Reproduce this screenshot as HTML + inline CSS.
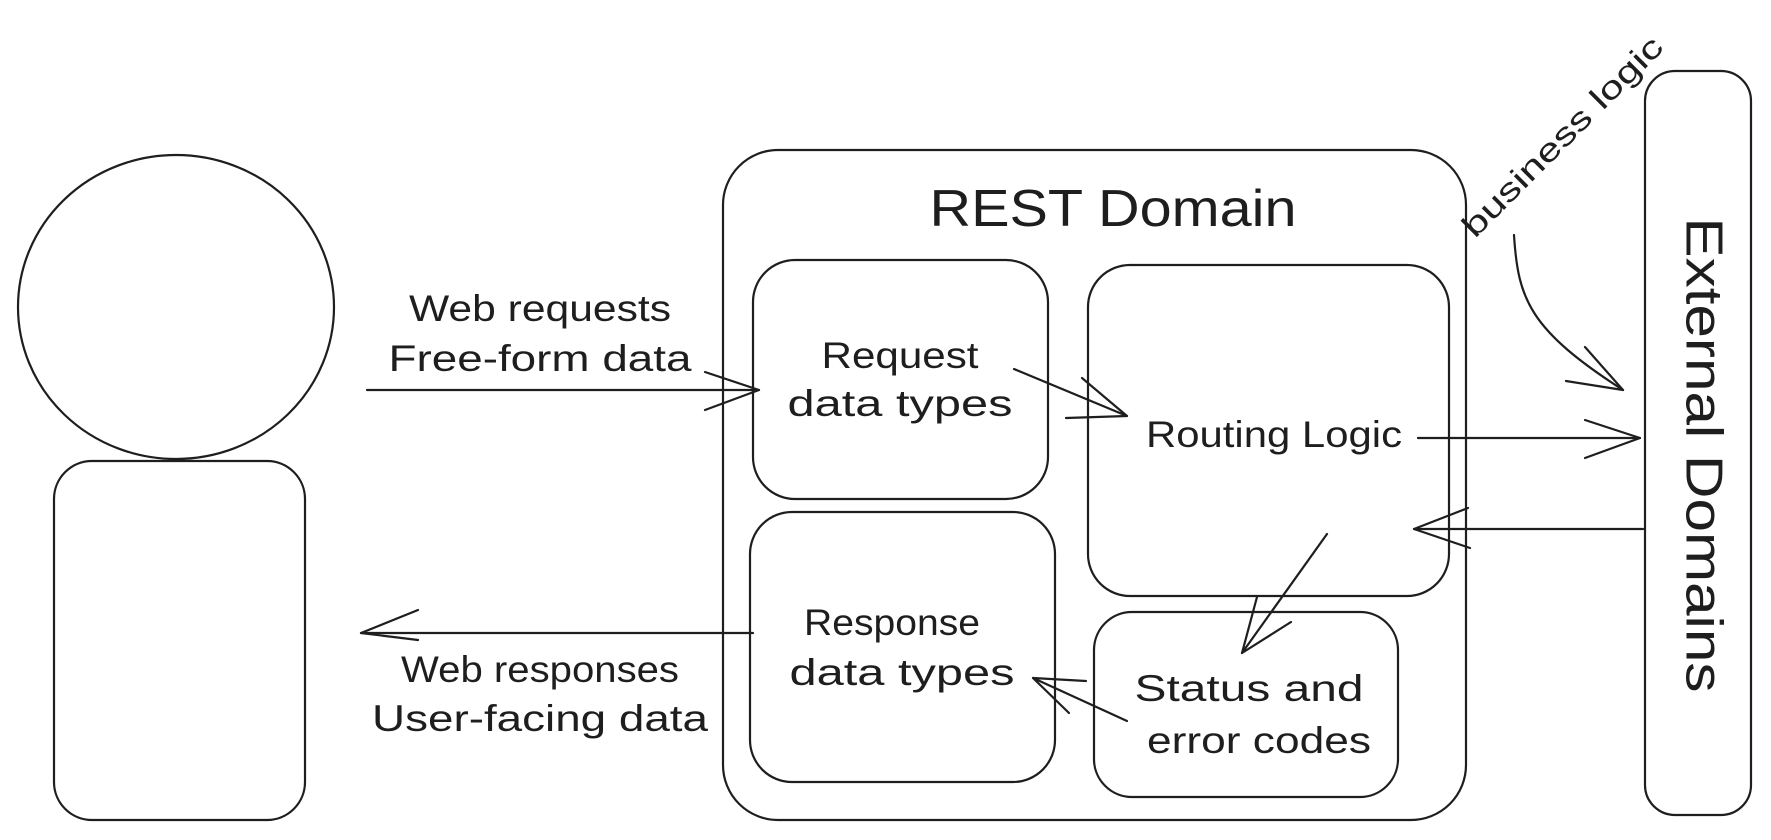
<!DOCTYPE html>
<html><head><meta charset="utf-8"><style>
html,body{margin:0;padding:0;background:#fff;width:1771px;height:840px;overflow:hidden}
svg text{font-family:"Liberation Sans",sans-serif;fill:#1e1e1e}
</style></head><body>
<svg width="1771" height="840" viewBox="0 0 1771 840" xmlns="http://www.w3.org/2000/svg">
<g fill="none" stroke="#1e1e1e" stroke-width="2.2" stroke-linecap="round" stroke-linejoin="round">
<ellipse cx="176" cy="307" rx="158" ry="152"/>
<rect x="54" y="461" width="251" height="359" rx="38"/>
<rect x="723" y="150" width="743" height="670" rx="55"/>
<rect x="753" y="260" width="295" height="239" rx="42"/>
<rect x="1088" y="265" width="361" height="331" rx="42"/>
<rect x="750" y="512" width="305" height="270" rx="42"/>
<rect x="1094" y="612" width="304" height="185" rx="38"/>
<rect x="1645" y="71" width="106" height="744" rx="30"/>
<path d="M367 390 L759 390"/><path d="M705 372 L759 390 L705 410"/>
<path d="M753 633 L361 633"/><path d="M418 610 L361 633 L418 640"/>
<path d="M1418 438 L1640 438"/><path d="M1585 420 L1640 438 L1585 458"/>
<path d="M1643 529 L1414 529"/><path d="M1468 508 L1414 529 L1470 548"/>
<path d="M1014 369 L1127 416"/><path d="M1066 418 L1127 416 L1082 378"/>
<path d="M1327 534 L1242 653"/><path d="M1257 597 L1242 653 L1291 622"/>
<path d="M1127 721 L1033 678"/><path d="M1086 681 L1033 678 L1069 713"/>
<path d="M1514 235 C1518 300 1530 330 1623 390"/><path d="M1585 347 L1623 390 L1566 381"/>
</g>
<text x="1113" y="226" font-size="52" text-anchor="middle" textLength="367" lengthAdjust="spacingAndGlyphs">REST Domain</text>
<g font-size="37" text-anchor="middle">
<text x="540" y="321" textLength="262" lengthAdjust="spacingAndGlyphs">Web requests</text>
<text x="540" y="371" textLength="303" lengthAdjust="spacingAndGlyphs">Free-form data</text>
<text x="540" y="682" textLength="278" lengthAdjust="spacingAndGlyphs">Web responses</text>
<text x="540" y="731" textLength="336" lengthAdjust="spacingAndGlyphs">User-facing data</text>
<text x="900" y="368" textLength="157" lengthAdjust="spacingAndGlyphs">Request</text>
<text x="900" y="416" textLength="225" lengthAdjust="spacingAndGlyphs">data types</text>
<text x="1274" y="447" textLength="256" lengthAdjust="spacingAndGlyphs">Routing Logic</text>
<text x="892" y="635" textLength="176" lengthAdjust="spacingAndGlyphs">Response</text>
<text x="902" y="685" textLength="225" lengthAdjust="spacingAndGlyphs">data types</text>
<text x="1249" y="701" textLength="229" lengthAdjust="spacingAndGlyphs">Status and</text>
<text x="1259" y="753" textLength="224" lengthAdjust="spacingAndGlyphs">error codes</text>
</g>
<text x="1700" y="455" font-size="52" text-anchor="middle" transform="rotate(90 1700 455)" dominant-baseline="middle" textLength="475" lengthAdjust="spacingAndGlyphs">External Domains</text>
<text x="1564" y="138" font-size="32" text-anchor="middle" transform="rotate(-45 1564 138)" dominant-baseline="middle" textLength="269" lengthAdjust="spacingAndGlyphs">business logic</text>
</svg>
</body></html>
